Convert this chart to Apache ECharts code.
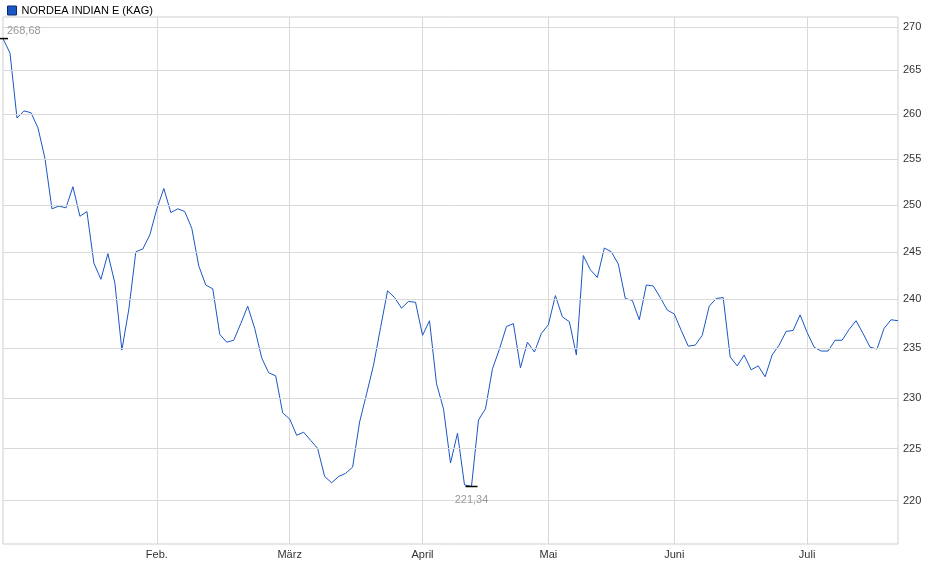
<!DOCTYPE html>
<html><head><meta charset="utf-8">
<script src="https://cdn.jsdelivr.net/npm/echarts@6/dist/echarts.min.js"></script>
<style>html,body{margin:0;padding:0;background:#fff}#c{width:940px;height:579px}</style>
</head><body><div id="c"></div>
<script>
const seriesName = 'NORDEA INDIAN E (KAG)';
const prices = [268.68,267,259.6,260.4,260.2,258.5,255.1,249.6,249.9,249.7,252,248.8,249.3,243.8,242.1,244.8,241.7,234.8,239,245,245.3,246.8,249.6,251.8,
249.2,249.6,249.3,247.5,243.5,241.5,241.1,236.4,235.6,235.8,237.5,239.3,237,234,232.5,232.2,228.5,227.9,
226.3,226.6,225.8,225,222.3,221.7,222.3,222.6,223.2,227.6,230.4,233.3,237.1,240.9,240.2,239.1,239.8,239.7,236.3,237.8,
231.4,228.9,223.6,226.5,221.5,221.34,227.8,228.9,232.9,234.9,237.2,237.5,233,235.6,234.6,236.5,237.4,240.4,238.2,237.7,
234.3,244.6,243.1,242.3,245.4,245,243.7,240.1,239.9,237.9,241.5,241.4,240.2,238.9,238.5,236.8,235.2,235.3,236.3,239.3,
240.1,240.2,234.1,233.2,234.3,232.8,233.2,232.1,234.3,235.3,236.7,236.8,238.4,236.6,235.1,234.7,234.7,235.8,235.8,236.9,
237.8,236.5,235.1,234.9,237,237.9,237.8];
const monthLabels = ['Feb.','März','April','Mai','Juni','Juli'];
const monthStartIndex = [22,41,60,78,96,115];
const yTicks = [220,225,230,235,240,245,250,255,260,265,270];
const highValue = 268.68, lowValue = 221.34;

const categories = prices.map((_, i) => {
  const k = monthStartIndex.indexOf(i);
  return k >= 0 ? monthLabels[k] : '';
});
const hiIdx = prices.indexOf(highValue), loIdx = prices.indexOf(lowValue);
const fmt = v => v.toFixed(2).replace('.', ',');

const chart = echarts.init(document.getElementById('c'));
chart.setOption({
  animation: false,
  legend: {
    left: 2, top: 0, itemWidth: 9, itemHeight: 9, itemGap: 4,
    icon: 'rect',
    textStyle: {fontFamily: 'Liberation Sans, Arial', fontSize: 11, color: '#000'},
    data: [{name: seriesName, itemStyle: {color: '#1a56c4', borderColor: '#0a2a70', borderWidth: 1}}]
  },
  grid: {left: 3, right: 42, top: 17, bottom: 35, show: true, borderColor: '#cfcfcf', borderWidth: 1, containLabel: false},
  xAxis: {
    type: 'category', data: categories, boundaryGap: false,
    axisLine: {show: false}, axisTick: {show: false},
    axisLabel: {interval: (i, v) => v !== '', color: '#333', fontSize: 11, fontFamily: 'Liberation Sans, Arial', margin: 5},
    splitLine: {show: true, interval: (i, v) => v !== '', lineStyle: {color: '#d9d9d9'}}
  },
  yAxis: {
    type: 'log', logBase: 10, min: 215.9, max: 271.2,
    axisLine: {show: false}, axisTick: {show: false}, axisLabel: {show: false}, splitLine: {show: false}
  },
  series: [{
    name: seriesName, type: 'line', data: prices, symbol: 'none',
    lineStyle: {color: '#1a56c4', width: 1}, itemStyle: {color: '#1a56c4'},
    markLine: {
      silent: true, symbol: 'none',
      lineStyle: {color: '#d9d9d9', type: 'solid', width: 1},
      label: {position: 'end', formatter: p => String(p.value), color: '#333', fontSize: 11, fontFamily: 'Liberation Sans, Arial', distance: 5},
      data: yTicks.map(v => ({yAxis: v}))
    },
    markPoint: {
      silent: true,
      data: [
        {coord: [hiIdx, highValue], symbol: 'rect', symbolSize: [10, 1.5], itemStyle: {color: '#000'},
         label: {show: true, formatter: fmt(highValue), position: 'right', offset: [-6, -8], color: '#999', fontSize: 11, fontFamily: 'Liberation Sans, Arial'}},
        {coord: [loIdx, lowValue], symbol: 'rect', symbolSize: [12, 1.5], itemStyle: {color: '#000'},
         label: {show: true, formatter: fmt(lowValue), position: 'bottom', offset: [0, 2], color: '#999', fontSize: 11, fontFamily: 'Liberation Sans, Arial'}}
      ]
    }
  }]
});
</script></body></html>
